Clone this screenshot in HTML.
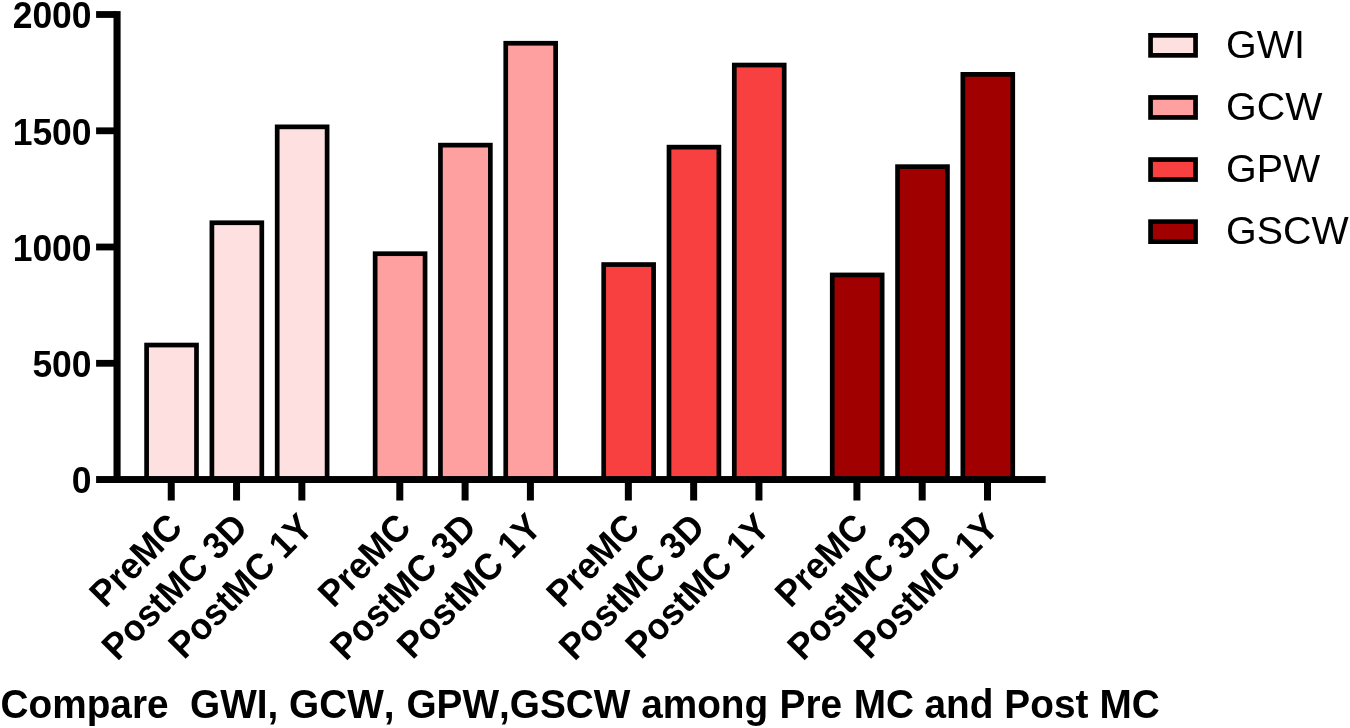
<!DOCTYPE html>
<html lang="en"><head><meta charset="utf-8"><title>Compare GWI, GCW, GPW, GSCW among Pre MC and Post MC</title>
<style>
html,body{margin:0;padding:0;background:#fff;}
body{width:1350px;height:728px;overflow:hidden;}
svg{display:block;}
text{font-family:"Liberation Sans",sans-serif;fill:#000;font-kerning:none;}
.yt{font-size:35.5px;font-weight:bold;text-anchor:end;}
.xt{font-size:35.5px;font-weight:bold;text-anchor:end;}
.lg{font-size:39.4px;}
.cap{font-size:38.8px;font-weight:bold;}
</style></head><body>
<svg width="1350" height="728" viewBox="0 0 1350 728">
<rect x="0" y="0" width="1350" height="728" fill="#fff"/>
<rect x="146.60" y="345.05" width="49.90" height="134.55" fill="#FFE0E0" stroke="#000" stroke-width="4.7"/>
<rect x="211.90" y="222.75" width="49.90" height="256.85" fill="#FFE0E0" stroke="#000" stroke-width="4.7"/>
<rect x="277.20" y="126.85" width="49.90" height="352.75" fill="#FFE0E0" stroke="#000" stroke-width="4.7"/>
<rect x="375.15" y="253.70" width="49.90" height="225.90" fill="#FFA0A0" stroke="#000" stroke-width="4.7"/>
<rect x="440.45" y="145.15" width="49.90" height="334.45" fill="#FFA0A0" stroke="#000" stroke-width="4.7"/>
<rect x="505.75" y="43.25" width="49.90" height="436.35" fill="#FFA0A0" stroke="#000" stroke-width="4.7"/>
<rect x="603.70" y="264.55" width="49.90" height="215.05" fill="#F84040" stroke="#000" stroke-width="4.7"/>
<rect x="669.00" y="147.15" width="49.90" height="332.45" fill="#F84040" stroke="#000" stroke-width="4.7"/>
<rect x="734.30" y="65.05" width="49.90" height="414.55" fill="#F84040" stroke="#000" stroke-width="4.7"/>
<rect x="832.25" y="274.95" width="49.90" height="204.65" fill="#A00000" stroke="#000" stroke-width="4.7"/>
<rect x="897.55" y="166.65" width="49.90" height="312.95" fill="#A00000" stroke="#000" stroke-width="4.7"/>
<rect x="962.85" y="74.35" width="49.90" height="405.25" fill="#A00000" stroke="#000" stroke-width="4.7"/>
<rect x="113.5" y="11.1" width="7.1" height="471.9" fill="#000"/>
<rect x="96.1" y="476.05" width="949.6" height="6.95" fill="#000"/>
<rect x="96.1" y="11.1" width="20" height="6.8" fill="#000"/>
<rect x="96.1" y="127.4" width="20" height="6.8" fill="#000"/>
<rect x="96.1" y="243.6" width="20" height="6.8" fill="#000"/>
<rect x="96.1" y="359.9" width="20" height="6.8" fill="#000"/>
<rect x="167.75" y="480" width="7" height="20.5" fill="#000"/>
<rect x="233.05" y="480" width="7" height="20.5" fill="#000"/>
<rect x="298.35" y="480" width="7" height="20.5" fill="#000"/>
<rect x="396.30" y="480" width="7" height="20.5" fill="#000"/>
<rect x="461.60" y="480" width="7" height="20.5" fill="#000"/>
<rect x="526.90" y="480" width="7" height="20.5" fill="#000"/>
<rect x="624.85" y="480" width="7" height="20.5" fill="#000"/>
<rect x="690.15" y="480" width="7" height="20.5" fill="#000"/>
<rect x="755.45" y="480" width="7" height="20.5" fill="#000"/>
<rect x="853.40" y="480" width="7" height="20.5" fill="#000"/>
<rect x="918.70" y="480" width="7" height="20.5" fill="#000"/>
<rect x="984.00" y="480" width="7" height="20.5" fill="#000"/>
<text class="yt" transform="translate(91.6,27.90) scale(1,1.055)">2000</text>
<text class="yt" transform="translate(91.6,144.50) scale(1,1.055)">1500</text>
<text class="yt" transform="translate(91.6,260.60) scale(1,1.055)">1000</text>
<text class="yt" transform="translate(91.6,377.00) scale(1,1.055)">500</text>
<text class="yt" transform="translate(91.6,493.30) scale(1,1.055)">0</text>
<text class="xt" transform="translate(184.40,529.50) rotate(-45) scale(1,1.05)">PreMC</text>
<text class="xt" transform="translate(249.70,529.50) rotate(-45) scale(1,1.05)">PostMC 3D</text>
<text class="xt" transform="translate(315.00,529.50) rotate(-45) scale(1,1.05)">PostMC 1Y</text>
<text class="xt" transform="translate(412.95,529.50) rotate(-45) scale(1,1.05)">PreMC</text>
<text class="xt" transform="translate(478.25,529.50) rotate(-45) scale(1,1.05)">PostMC 3D</text>
<text class="xt" transform="translate(543.55,529.50) rotate(-45) scale(1,1.05)">PostMC 1Y</text>
<text class="xt" transform="translate(641.50,529.50) rotate(-45) scale(1,1.05)">PreMC</text>
<text class="xt" transform="translate(706.80,529.50) rotate(-45) scale(1,1.05)">PostMC 3D</text>
<text class="xt" transform="translate(772.10,529.50) rotate(-45) scale(1,1.05)">PostMC 1Y</text>
<text class="xt" transform="translate(870.05,529.50) rotate(-45) scale(1,1.05)">PreMC</text>
<text class="xt" transform="translate(935.35,529.50) rotate(-45) scale(1,1.05)">PostMC 3D</text>
<text class="xt" transform="translate(1000.65,529.50) rotate(-45) scale(1,1.05)">PostMC 1Y</text>
<rect x="1150.55" y="35.35" width="45.00" height="20.00" fill="#FFE0E0" stroke="#000" stroke-width="4.7"/>
<text class="lg" x="1226.1" y="57.9">GWI</text>
<rect x="1150.55" y="97.45" width="45.00" height="20.00" fill="#FFA0A0" stroke="#000" stroke-width="4.7"/>
<text class="lg" x="1226.1" y="120.0">GCW</text>
<rect x="1150.55" y="159.55" width="45.00" height="20.00" fill="#F84040" stroke="#000" stroke-width="4.7"/>
<text class="lg" x="1226.1" y="182.1">GPW</text>
<rect x="1150.55" y="221.65" width="45.00" height="20.00" fill="#A00000" stroke="#000" stroke-width="4.7"/>
<text class="lg" x="1226.1" y="244.2">GSCW</text>
<text class="cap" transform="translate(-0.3,717.6) scale(1,1.035)"><tspan x="0.80">Compare</tspan>  <tspan x="190.35">GWI,</tspan> <tspan x="289.36">GCW,</tspan> <tspan x="406.69">GPW,GSCW</tspan> <tspan x="641.43">among</tspan> <tspan x="779.93">Pre</tspan> <tspan x="853.95">MC</tspan> <tspan x="924.84">and</tspan> <tspan x="1004.66">Post</tspan> <tspan x="1099.78">MC</tspan></text>
</svg></body></html>
